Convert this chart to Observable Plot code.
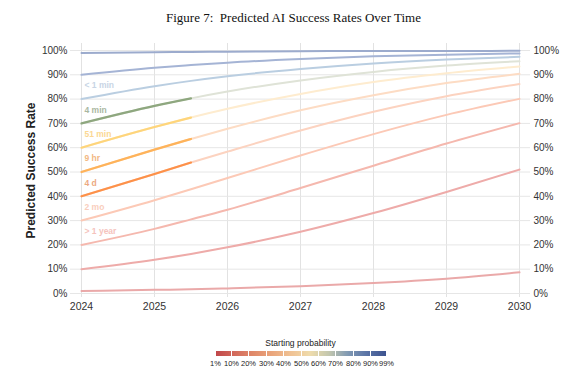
<!DOCTYPE html>
<html>
<head>
<meta charset="utf-8">
<script src="https://cdn.jsdelivr.net/npm/d3@7"></script>
<script src="https://cdn.jsdelivr.net/npm/@observablehq/plot@0.6"></script>
<style>
  html, body { margin: 0; padding: 0; background: #fff; }
  body { width: 587px; height: 388px; position: relative; overflow: hidden; }
  #title { position: absolute; left: 0; top: 10px; width: 587px; text-align: center;
    font-family: "Liberation Serif", "Times New Roman", serif; font-size: 13px; line-height: 15px;
    color: #111; white-space: pre; }
  #chart { position: absolute; left: 0; top: 30px; }
  #legendTitle { position: absolute; left: 200px; top: 338px; width: 201px; text-align: center;
    font-family: "Liberation Sans", Arial, sans-serif; font-size: 8.5px; line-height: 10px; color: #222; }
  #legend { position: absolute; left: 205px; top: 348px; }
  #legend svg g.tick line { stroke: #fff; stroke-width: 1; }
</style>
</head>
<body>
<div id="title">Figure 7:  Predicted AI Success Rates Over Time</div>
<div id="chart"></div>
<div id="legendTitle">Starting probability</div>
<div id="legend"></div>
<script>
// ---- data ----
const years = [2024, 2025, 2025.5, 2026, 2027, 2028, 2029, 2030];
const startProbs = [0.01, 0.1, 0.2, 0.3, 0.4, 0.5, 0.6, 0.7, 0.8, 0.9, 0.99];
const p01 = [0.010, 0.015, 0.017, 0.021, 0.030, 0.043, 0.061, 0.087];
const p10 = [0.100, 0.139, 0.163, 0.190, 0.254, 0.331, 0.418, 0.510];
const p20 = [0.200, 0.266, 0.305, 0.345, 0.434, 0.526, 0.617, 0.701];
const p30 = [0.300, 0.384, 0.429, 0.475, 0.568, 0.656, 0.735, 0.801];
const p40 = [0.400, 0.492, 0.539, 0.584, 0.671, 0.748, 0.812, 0.862];
const p50 = [0.500, 0.592, 0.636, 0.678, 0.754, 0.816, 0.866, 0.904];
const p60 = [0.600, 0.685, 0.724, 0.760, 0.821, 0.870, 0.906, 0.934];
const p70 = [0.700, 0.772, 0.803, 0.831, 0.877, 0.912, 0.938, 0.956];
const p80 = [0.800, 0.853, 0.875, 0.894, 0.924, 0.947, 0.963, 0.974];
const p90 = [0.900, 0.929, 0.940, 0.950, 0.965, 0.976, 0.983, 0.988];
const p99 = [0.990, 0.993, 0.994, 0.995, 0.997, 0.998, 0.998, 0.999];
const seriesValues = [p01, p10, p20, p30, p40, p50, p60, p70, p80, p90, p99];

const highlightStarts = [0.4, 0.5, 0.6, 0.7];
const highlightEnd = 2025.5;

const taskLabels = ["> 1 year", "2 mo", "4 d", "9 hr", "51 min", "4 min", "< 1 min"];
const labelStarts = [0.2, 0.3, 0.4, 0.5, 0.6, 0.7, 0.8];

const yearTicks = [2024, 2025, 2026, 2027, 2028, 2029, 2030];
const yTicks = [0, 0.1, 0.2, 0.3, 0.4, 0.5, 0.6, 0.7, 0.8, 0.9, 1];
const legendTicks = [0.01, 0.1, 0.2, 0.3, 0.4, 0.5, 0.6, 0.7, 0.8, 0.9, 0.99];

// ---- styles ----
const lineColors = ["#eaa9a9", "#eeaba9", "#f5b8ae", "#fcc9b6", "#fcd3c0", "#fddcc4",
                    "#feeccf", "#dfe3d7", "#bacee1", "#a5b4d5", "#9cabcd"];
const highlightColors = ["#fd9149", "#feb35a", "#fed57b", "#8ea77f"];
const labelColors = ["#f5c3bd", "#f9cebd", "#eca97f", "#f2b883", "#fbd893", "#a9b7a1", "#c8d5e5"];
const legendColors = ["#c0474a", "#d36a5c", "#e08a6a", "#eaa67c", "#f0c294", "#efdcac",
                      "#c3c7ae", "#819ab3", "#5a74a6", "#3e5490"];

// ---- build rows ----
const rows = [];
seriesValues.forEach((vals, i) => {
  vals.forEach((v, j) => rows.push({start: startProbs[i], year: years[j], value: v, color: lineColors[i]}));
});
const hlRows = [];
highlightStarts.forEach((s, k) => {
  const i = startProbs.indexOf(s);
  seriesValues[i].forEach((v, j) => {
    if (years[j] <= highlightEnd) hlRows.push({start: s, year: years[j], value: v, color: highlightColors[k]});
  });
});
const labelRows = taskLabels.map((t, i) => ({text: t, year: years[0], value: labelStarts[i], color: labelColors[i]}));

const pct = d3.format(".0%");

const chart = Plot.plot({
  width: 587,
  height: 290,
  marginTop: 13,
  marginBottom: 23,
  marginLeft: 70,
  marginRight: 57,
  insetTop: 7,
  insetBottom: 4,
  insetLeft: 11,
  insetRight: 11,
  style: {fontFamily: "'Liberation Sans', Arial, sans-serif", fontSize: "10px", color: "#333", background: "white"},
  x: {domain: [2024, 2030]},
  y: {domain: [0, 1]},
  color: {type: "identity"},
  marks: [
    Plot.gridX(yearTicks, {stroke: "#e2e2e2", strokeOpacity: 1}),
    Plot.gridY(yTicks, {stroke: "#e6e6e6", strokeOpacity: 1}),
    Plot.axisX(yearTicks, {tickSize: 0, tickPadding: 5, tickFormat: d => String(d), label: null, fontSize: 10.5}),
    Plot.axisY(yTicks, {anchor: "left", tickSize: 0, tickPadding: 3, tickFormat: pct, label: null}),
    Plot.axisY(yTicks, {anchor: "right", tickSize: 0, tickPadding: 3, tickFormat: pct, label: null}),
    Plot.line(rows, {x: "year", y: "value", z: "start", stroke: "color", strokeWidth: 2, curve: "monotone-x"}),
    Plot.line(hlRows, {x: "year", y: "value", z: "start", stroke: "color", strokeWidth: 2.2, curve: "monotone-x"}),
    Plot.text(labelRows, {x: "year", y: "value", text: "text", fill: "color", textAnchor: "start",
      dx: 3, dy: -13.5, fontWeight: "bold", fontSize: 8.5}),
    Plot.text(["Predicted Success Rate"], {text: d => d, frameAnchor: "left", textAnchor: "middle",
      lineAnchor: "middle", rotate: -90, dx: -39, fontWeight: "bold", fontSize: 12, fill: "#222"})
  ]
});
document.getElementById("chart").appendChild(chart);

const legend = Plot.legend({
  color: {type: "linear", domain: [0.01, 0.99], interpolate: d3.piecewise(d3.interpolateRgb, legendColors)},
  width: 191,
  height: 26,
  marginTop: 3,
  marginBottom: 18,
  marginLeft: 10,
  marginRight: 10,
  tickSize: 2,
  ticks: legendTicks,
  tickFormat: pct,
  label: null,
  style: {fontFamily: "'Liberation Sans', Arial, sans-serif", fontSize: "7.5px", color: "#222", overflow: "visible", background: "transparent"}
});
document.getElementById("legend").appendChild(legend);
</script>
</body>
</html>
